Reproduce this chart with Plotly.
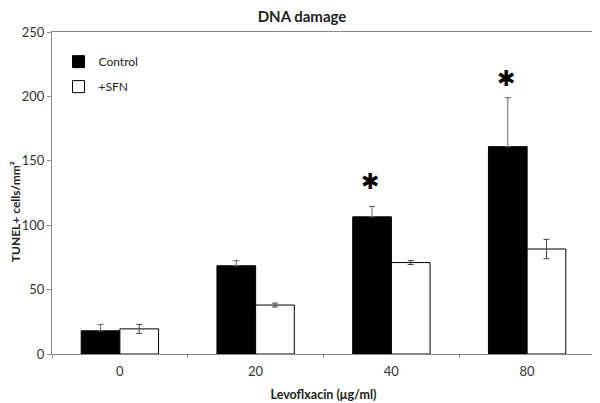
import plotly.graph_objects as go

categories = ["0", "20", "40", "80"]
control = [18, 68.5, 106.5, 161]
control_err = [5, 4, 8, 38]
sfn = [19.5, 38, 71, 81.5]
sfn_err = [3.5, 1.5, 1.5, 7.5]
sig_labels = ["", "", "*", "*"]
sig_y = [0, 0, 134, 214]

FONT = "Lato"
GRAY = "#8a8a8a"

fig = go.Figure()
fig.add_trace(go.Bar(
    x=categories, y=control, name="Control",
    marker=dict(color="black", line=dict(color="black", width=1)),
    error_y=dict(type="data", symmetric=False, array=control_err,
                 arrayminus=[0] * len(control_err), color="#666666",
                 thickness=1, width=3),
    legendgroup="a",
))
fig.add_trace(go.Bar(
    x=categories, y=sfn, name="+SFN",
    marker=dict(color="white", line=dict(color="black", width=1)),
    error_y=dict(type="data", array=sfn_err, color="#444444",
                 thickness=1, width=3),
    legendgroup="b",
))

for i, (lab, yy) in enumerate(zip(sig_labels, sig_y)):
    if lab:
        fig.add_annotation(x=i, y=yy, text="<b>✱</b>", showarrow=False,
                           xshift=-21, font=dict(size=22, color="black", family="DejaVu Sans"))

fig.add_annotation(text="<b>TUNEL+ cells/mm²</b>", textangle=-90, xref="paper", yref="paper",
                   x=-0.066, y=0.441, xanchor="center", yanchor="middle", showarrow=False,
                   font=dict(family=FONT, size=12, color="#222"))

fig.update_layout(
    width=600, height=403,
    margin=dict(l=44, r=13, t=24, b=57, autoexpand=False),
    paper_bgcolor="white", plot_bgcolor="white",
    barmode="group", bargap=0.43, bargroupgap=0,
    title=dict(text="<b>DNA damage</b>", x=0.49, xanchor="center", y=1.0,
               yanchor="top", pad=dict(t=3), font=dict(family=FONT, size=15, color="#222")),
    font=dict(family=FONT, size=13, color="#333"),
    legend=dict(x=0.012, y=0.953, xanchor="left", yanchor="top",
                bgcolor="rgba(0,0,0,0)", tracegroupgap=6,
                font=dict(family=FONT, size=12, color="#222")),
    xaxis=dict(type="category", range=[-0.5, 3.5], showline=True, linecolor=GRAY, linewidth=1,
               mirror=True, ticks="outside", tickson="boundaries", ticklen=3,
               ticklabelstandoff=5,
               tickcolor=GRAY, showgrid=False, automargin=False,
               title=dict(text="<b>Levoflxacin (μg/ml)</b>", standoff=12,
                          font=dict(family=FONT, size=12.5, color="#222"))),
    yaxis=dict(range=[0, 250], dtick=50, showline=True, linecolor=GRAY,
               linewidth=1, mirror=True, ticks="outside", ticklen=4,
               tickcolor=GRAY, showgrid=False, zeroline=False, automargin=False),
)

fig.write_html("out.html")
